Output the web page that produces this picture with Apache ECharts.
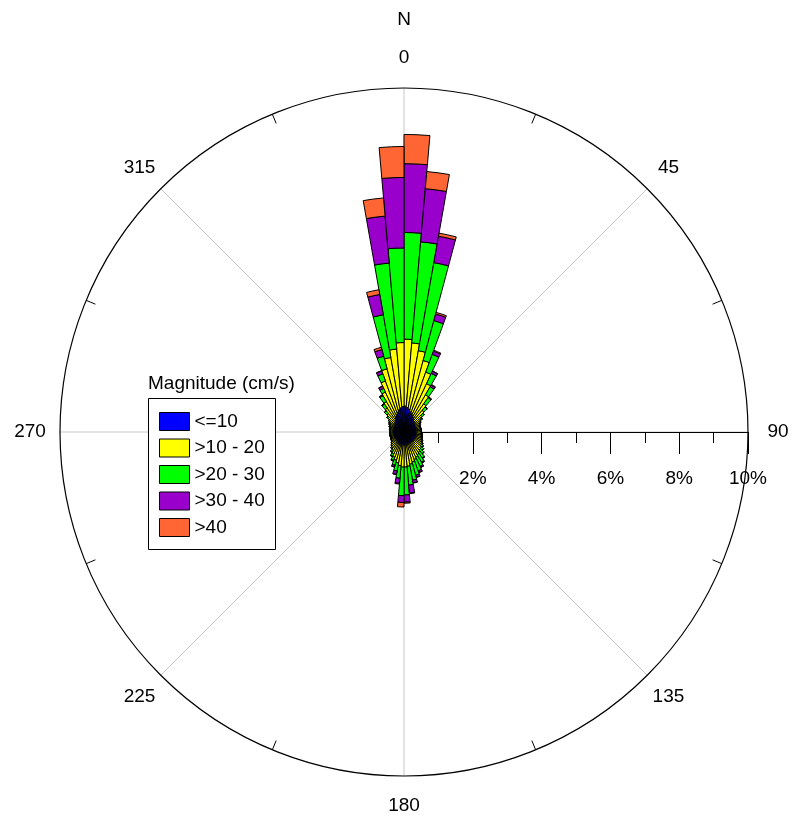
<!DOCTYPE html>
<html>
<head>
<meta charset="utf-8">
<script src="https://cdn.jsdelivr.net/npm/echarts@6/dist/echarts.min.js"></script>
<style>
  html, body { margin: 0; padding: 0; background: #fff; }
  #chart { width: 793px; height: 819px; }
</style>
</head>
<body>
<div id="chart"></div>
<script>
// ---- DATA ----
// Direction sectors: 72 bins of 5 degrees (0-5, 5-10, ... 355-360)
const sectorStep = 5;
const categories = Array.from({length: 360 / sectorStep}, (_, i) => (i * sectorStep) + '-' + ((i + 1) * sectorStep));

const bins = ['<=10', '>10 - 20', '>20 - 30', '>30 - 40', '>40'];

// Percent of observations in each sector, per magnitude class (cm/s)
const magLE10 = [
  0.75,0.72,0.68,0.62,0.58,0.54,0.50,0.46,0.43,0.41,0.40,0.39,
  0.38,0.37,0.37,0.37,0.37,0.37,0.37,0.37,0.37,0.37,0.37,0.37,
  0.37,0.37,0.37,0.37,0.37,0.37,0.37,0.37,0.38,0.38,0.39,0.39,
  0.39,0.38,0.38,0.37,0.37,0.36,0.35,0.34,0.33,0.33,0.32,0.32,
  0.32,0.32,0.32,0.32,0.32,0.32,0.32,0.32,0.32,0.32,0.33,0.33,
  0.34,0.35,0.37,0.40,0.43,0.47,0.51,0.56,0.61,0.66,0.71,0.74
];
const mag10to20 = [
  1.95,1.88,1.72,1.53,1.27,1.01,0.75,0.54,0.39,0.28,0.20,0.14,
  0.12,0.11,0.11,0.11,0.12,0.12,0.13,0.13,0.14,0.15,0.17,0.19,
  0.22,0.25,0.28,0.31,0.35,0.39,0.43,0.48,0.52,0.57,0.61,0.63,
  0.63,0.60,0.54,0.48,0.41,0.34,0.27,0.22,0.18,0.14,0.11,0.10,
  0.09,0.08,0.08,0.08,0.08,0.08,0.08,0.08,0.09,0.10,0.11,0.12,
  0.14,0.17,0.23,0.30,0.42,0.55,0.77,1.02,1.29,1.54,1.71,1.86
];
const mag20to30 = [
  3.10,2.95,2.60,1.20,0.55,0.33,0.27,0.22,0.13,0.08,0.05,0.04,
  0.03,0.02,0.02,0.02,0.02,0.02,0.02,0.03,0.03,0.03,0.03,0.04,
  0.05,0.07,0.10,0.14,0.20,0.25,0.30,0.35,0.40,0.47,0.55,0.81,
  0.83,0.37,0.23,0.15,0.10,0.08,0.06,0.04,0.03,0.02,0.02,0.02,
  0.02,0.02,0.02,0.02,0.02,0.02,0.02,0.02,0.02,0.02,0.02,0.03,
  0.03,0.04,0.05,0.10,0.14,0.20,0.12,0.22,0.38,1.26,2.51,2.75
];
const mag30to40 = [
  2.00,1.55,0.78,0.20,0.10,0.07,0.06,0.02,0.01,0,0,0,
  0,0,0,0,0,0,0,0,0,0,0,0,
  0,0,0,0.01,0.02,0.03,0.04,0.05,0.06,0.08,0.23,0.21,
  0.20,0.15,0.10,0.05,0.02,0.01,0,0,0,0,0,0,
  0,0,0,0,0,0,0,0,0,0,0,0,
  0,0,0,0.01,0.02,0.03,0.07,0.09,0.20,0.60,1.37,2.05
];
const magGT40 = [
  0.85,0.50,0.09,0.05,0.03,0.01,0.02,0.01,0,0,0,0,
  0,0,0,0,0,0,0,0,0,0,0,0,
  0,0,0,0,0,0,0,0.01,0.01,0.01,0.02,0.03,
  0.13,0.02,0.01,0.01,0,0,0,0,0,0,0,0,
  0,0,0,0,0,0,0,0,0,0,0,0,
  0,0,0,0,0,0,0.01,0.01,0.07,0.14,0.53,0.90
];
const seriesValues = [magLE10, mag10to20, mag20to30, mag30to40, magGT40];

// Axis labels
const angleTickValues = [0, 45, 90, 135, 180, 225, 270, 315];
const angleTickLabels = ['0', '45', '90', '135', '180', '225', '270', '315'];
const compassLabel = 'N';
const radiusMax = 10;       // percent
const radiusInterval = 2;   // percent

// ---- STYLE ----
const colors = ['#0000FF', '#FFFF00', '#00FF00', '#9900CC', '#FF6633'];
const FONT = '"Liberation Sans", Arial, sans-serif';
const CX = 404, CY = 432, R = 344;
const LABEL_R = 374;

const chart = echarts.init(document.getElementById('chart'), null, {renderer: 'canvas'});

const labelData = angleTickValues.map((a, i) => ({value: [1, a], name: angleTickLabels[i]}));
labelData.push({value: [412 / LABEL_R, 0], name: compassLabel});

const option = {
  backgroundColor: '#ffffff',
  animation: false,
  textStyle: {fontFamily: FONT},
  polar: [
    {center: [CX, CY], radius: R},
    {center: [CX, CY], radius: R},
    {center: [CX, CY], radius: LABEL_R * 1.2}
  ],
  angleAxis: [
    {polarIndex: 0, type: 'category', data: categories, startAngle: 90, clockwise: true, boundaryGap: true,
     axisLine: {show: false}, axisTick: {show: false}, axisLabel: {show: false}, splitLine: {show: false}},
    {polarIndex: 1, type: 'value', min: 0, max: 360, interval: 45, startAngle: 90, clockwise: true,
     axisLine: {show: true, lineStyle: {color: '#000', width: 1.2}},
     axisTick: {show: false, inside: true},
     minorTick: {show: true, splitNumber: 2, length: 10, lineStyle: {color: '#000', width: 1}},
     axisLabel: {show: false},
     splitLine: {show: true, lineStyle: {color: '#c8c8c8', width: 1}}},
    {polarIndex: 2, type: 'value', min: 0, max: 360, startAngle: 90, clockwise: true, show: false}
  ],
  radiusAxis: [
    {polarIndex: 0, type: 'value', min: 0, max: radiusMax, show: false},
    {polarIndex: 1, type: 'value', min: 0, max: radiusMax, show: false},
    {polarIndex: 2, type: 'value', min: 0, max: 1.2, show: false}
  ],
  grid: {left: CX, width: R, top: CY - 100, height: 100},
  xAxis: {
    type: 'value', min: 0, max: radiusMax, interval: radiusInterval, position: 'bottom', z: 1,
    axisLine: {show: true, lineStyle: {color: '#000', width: 1.2}},
    axisTick: {show: true, length: 22, lineStyle: {color: '#000', width: 1}},
    minorTick: {show: true, splitNumber: 2, length: 11, lineStyle: {color: '#000', width: 1}},
    splitLine: {show: false},
    axisLabel: {margin: 37, fontSize: 19, color: '#000', fontFamily: FONT,
                formatter: v => v === 0 ? '0' : v + '%'}
  },
  yAxis: {type: 'value', show: false},
  legend: {
    orient: 'vertical', left: 159, top: 412, padding: 0,
    itemWidth: 30, itemHeight: 18, itemGap: 7.5,
    selectedMode: false, icon: 'rect', z: 60,
    itemStyle: {borderColor: '#000', borderWidth: 1},
    textStyle: {fontSize: 19, color: '#000', fontFamily: FONT},
    data: bins
  },
  graphic: [
    {type: 'rect', z: 50, shape: {x: 148.5, y: 398.5, width: 127, height: 151},
     style: {fill: '#fff', stroke: '#000', lineWidth: 1}},
    {type: 'text', z: 50, x: 148, y: 384,
     style: {text: 'Magnitude (cm/s)', font: '19px ' + FONT, fill: '#000', verticalAlign: 'middle'}}
  ],
  series: bins.map((name, k) => ({
    type: 'bar', name, coordinateSystem: 'polar', polarIndex: 0, stack: 'rose',
    data: seriesValues[k], barCategoryGap: '0%', barGap: '0%', z: 2,
    itemStyle: {color: colors[k], borderColor: '#000', borderWidth: 1}
  })).concat([{
    type: 'scatter', coordinateSystem: 'polar', polarIndex: 2, symbolSize: 1, silent: true,
    itemStyle: {color: 'rgba(0,0,0,0)', opacity: 1},
    data: labelData,
    label: {show: true, position: 'inside', formatter: p => p.name, fontSize: 19,
            color: '#000', opacity: 1, textBorderWidth: 0, fontFamily: FONT}
  }])
};
chart.setOption(option);
</script>
</body>
</html>
